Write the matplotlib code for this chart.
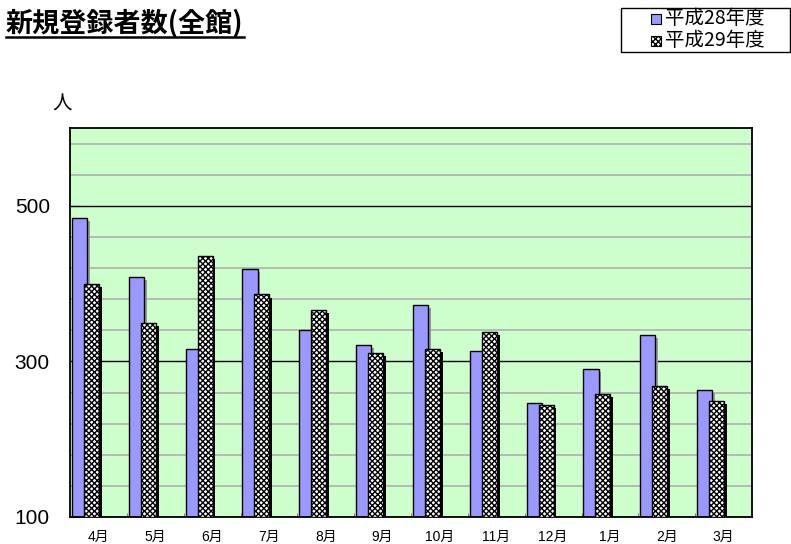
import numpy as np
import matplotlib
matplotlib.use('Agg')
import matplotlib.pyplot as plt
from matplotlib.patches import Rectangle
from matplotlib.lines import Line2D

plt.rcParams['font.family'] = ['Liberation Sans', 'Noto Sans CJK JP']
plt.rcParams['hatch.linewidth'] = 1.0

#--- data
months = ['4月', '5月', '6月', '7月', '8月', '9月', '10月', '11月', '12月', '1月', '2月', '3月']
h28 = [484, 408, 316, 419, 340, 321, 372, 313, 247, 290, 334, 263]
h29 = [399, 349, 436, 386, 366, 311, 316, 338, 244, 258, 269, 249]
series_names = ['平成28年度', '平成29年度']

W, H = 791, 544
fig = plt.figure(figsize=(W/100, H/100), dpi=100)
ax = fig.add_axes([70/W, 1-517/H, (752-70)/W, (517-128)/H])
ax.set_facecolor('#CCFFCC')

x = np.arange(len(months))
w = 0.265
x1 = x + 0.035
x2 = x + 0.245
sh = 0.05  # shadow offset (category units)
base = 100

# shadows
ax.bar(x1 + sh, np.array(h28) - base - 4, width=w, bottom=base, align='edge',
       color='#999999', zorder=2)
ax.bar(x2 + sh, np.array(h29) - base - 4, width=w, bottom=base, align='edge',
       color='black', zorder=3)
# bars
ax.bar(x1, np.array(h28) - base, width=w, bottom=base, align='edge', color='#9999FF',
       edgecolor='black', linewidth=1.0, zorder=2.5)
ax.bar(x2, np.array(h29) - base, width=w, bottom=base, align='edge', color='white',
       edgecolor='black', hatch='xxxxxx', linewidth=1.0, zorder=3.5)

ax.set_xlim(0, 12)
ax.set_ylim(100, 600)
ax.set_yticks([100, 300, 500])
ax.set_yticks(np.arange(140, 600, 40), minor=True)
ax.yaxis.grid(True, which='minor', color='#B0B0B0', linewidth=1.2, zorder=0)
ax.yaxis.grid(True, which='major', color='black', linewidth=1.0, zorder=0)
ax.set_axisbelow(True)
ax.tick_params(axis='y', which='major', direction='in', length=7, labelsize=15, pad=14.5)
ax.tick_params(axis='y', which='minor', length=0)

ax.set_xticks(x + 0.5)
ax.set_xticklabels(months, fontsize=10)
ax.set_xticks(np.arange(1, 12), minor=True)
ax.tick_params(axis='x', which='major', length=0, pad=9)
ax.tick_params(axis='x', which='minor', direction='in', length=3, color='#666666')
for s in ax.spines.values():
    s.set_linewidth(1.3)
    s.set_color('black')

fig.text(62/W, 1-104/H, '人', fontsize=14, ha='center', va='center',
         family=['Noto Sans CJK JP'])

title = fig.text(6/W, 1-23/H, '新規登録者数(全館)', fontsize=19.5, fontweight='bold',
                 ha='left', va='center', family=['Noto Sans CJK JP'])
fig.canvas.draw()
bb = title.get_window_extent().transformed(fig.transFigure.inverted())
fig.add_artist(Line2D([bb.x0, bb.x1], [1-37/H, 1-37/H], color='black', linewidth=1.8,
                      transform=fig.transFigure))

#--- legend box (drawn by hand to match the wide frame)
fig.add_artist(Rectangle((621/W, 1-52/H), (790-621)/W, 44/H, transform=fig.transFigure,
                         facecolor='white', edgecolor='black', linewidth=1.0))
key_styles = [dict(facecolor='#9999FF'), dict(facecolor='white', hatch='xxxxxx')]
for i, (name, st) in enumerate(zip(series_names, key_styles)):
    yc = 19 + i * 22
    fig.add_artist(Rectangle((651/W, 1-(yc+5)/H), 10/W, 10/H, transform=fig.transFigure,
                             edgecolor='black', linewidth=0.8, **st))
    fig.text(665/W, 1-yc/H, name, fontsize=14, ha='left', va='center',
             family=['Noto Sans CJK JP'])

fig.savefig('out.png', dpi=100)
